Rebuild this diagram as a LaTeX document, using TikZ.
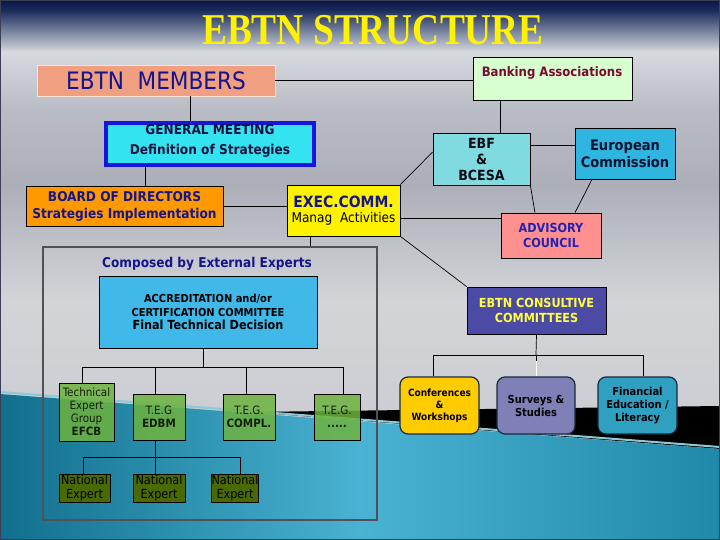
\documentclass[tikz,border=0pt]{standalone}
\usepackage{fontspec}
\usepackage{graphicx}
\setmainfont{DejaVu Sans Condensed}
\newfontfamily\titlefont{Liberation Serif}
\usetikzlibrary{calc}
\definecolor{navytxt}{HTML}{14148C}
\definecolor{memfill}{HTML}{F0A080}
\definecolor{bankfill}{HTML}{D8FFD0}
\definecolor{banktxt}{HTML}{7A0A30}
\definecolor{gmfill}{HTML}{33E3F0}
\definecolor{gmdraw}{HTML}{1515E0}
\definecolor{boardfill}{HTML}{FF9900}
\definecolor{ebffill}{HTML}{7FDBE0}
\definecolor{ecfill}{HTML}{2FB6E0}
\definecolor{advfill}{HTML}{FF9090}
\definecolor{advtxt}{HTML}{2323B0}
\definecolor{consfill}{HTML}{4B4BA5}
\definecolor{accrfill}{HTML}{40B8E8}
\definecolor{tegfill}{HTML}{6DB33F}
\definecolor{nefill}{HTML}{4A6A00}
\definecolor{conffill}{HTML}{FFCC00}
\definecolor{survfill}{HTML}{8080B8}
\definecolor{finfill}{HTML}{30A0C0}
\definecolor{outerdraw}{HTML}{505055}
\definecolor{rdraw}{HTML}{1A2A3A}
\newcommand\myfs[2]{\fontsize{#1}{#2}\selectfont}
\begin{document}
\begin{tikzpicture}[x=1pt,y=-1pt,
  box/.style={draw=black, line width=0.7pt, inner sep=0pt, align=center},
  conn/.style={draw=black, line width=0.7pt},
  rbox/.style={box, draw=rdraw, rounded corners=8pt, line width=1.2pt}]
\useasboundingbox (0,0) rectangle (720,540);
% ---- background
\shade[top color={rgb,255:red,8;green,20;blue,70}, bottom color={rgb,255:red,26;green,44;blue,92}] (0,0) rectangle (720,10);
\shade[top color={rgb,255:red,26;green,44;blue,92}, bottom color={rgb,255:red,214;green,217;blue,222}] (0,10) rectangle (720,52);
\shade[top color={rgb,255:red,214;green,217;blue,222}, bottom color={rgb,255:red,185;green,188;blue,196}] (0,52) rectangle (720,110);
\shade[top color={rgb,255:red,185;green,188;blue,196}, bottom color={rgb,255:red,172;green,175;blue,184}] (0,110) rectangle (720,185);
\shade[top color={rgb,255:red,172;green,175;blue,184}, bottom color={rgb,255:red,210;green,212;blue,216}] (0,185) rectangle (720,300);
\shade[top color={rgb,255:red,210;green,212;blue,216}, bottom color={rgb,255:red,196;green,199;blue,205}] (0,300) rectangle (720,540);
\fill[black] (250,412) -- (720,406) -- (720,449) -- cycle;
\draw[line width=2pt, color={rgb,255:red,140;green,200;blue,215}] (0,392) -- (720,447);
\shade[left color={rgb,255:red,17;green,111;blue,141}, right color={rgb,255:red,32;green,136;blue,168}, middle color={rgb,255:red,74;green,178;blue,210}] (0,394) -- (720,449) -- (720,540) -- (0,540) -- cycle;
\draw[line width=1.5pt, color={rgb,255:red,58;green,63;blue,85}] (0,0) rectangle (720,540);
% ---- title
\node (title) at (373,30) {\titlefont\bfseries\myfs{44}{48}\color{yellow}\scalebox{0.85}[1]{EBTN STRUCTURE}};
% ---- top nodes
\node[box, draw={rgb,255:red,248;green,228;blue,215}, fill=memfill, minimum width=238, minimum height=31, text=navytxt, font=\myfs{24}{26}] (mem) at (156,80.5) {EBTN~~MEMBERS};
\node[box, fill=bankfill, minimum width=159, minimum height=43] (bank) at (552.5,78.5) {};
\node[text=banktxt, font=\bfseries\myfs{13}{15}, inner sep=0pt] (banktxt) at (552,73) {Banking Associations};
\node[box, fill=gmfill, draw=gmdraw, line width=3.5pt, minimum width=208, minimum height=42, text={rgb,255:red,16;green,16;blue,64}, font=\bfseries\myfs{13.5}{19.5}] (gm) at (210,144) {GENERAL MEETING\\Definition of Strategies\\[-10pt]\mbox{}};
\node[box, fill=boardfill, minimum width=197, minimum height=40, text=navytxt, font=\bfseries\myfs{13.5}{17}] (board) at (124.5,206) {BOARD OF DIRECTORS\\Strategies Implementation};
\node[box, fill=yellow, minimum width=113, minimum height=51, align=center] (exec) at (343.5,210.5) {\textcolor{navytxt}{\bfseries\myfs{15.5}{18}EXEC.COMM.}\\[3pt]\myfs{13.5}{16}Manag~~Activities};
\node[box, fill=ebffill, minimum width=97, minimum height=52, font=\bfseries\myfs{14}{16}, text={rgb,255:red,10;green,10;blue,20}] (ebf) at (481.5,159) {EBF\\\&\\BCESA};
\node[box, fill=ecfill, minimum width=100, minimum height=51, font=\bfseries\myfs{14.5}{17}, text={rgb,255:red,10;green,16;blue,48}] (ec) at (625,153.5) {European\\Commission};
\node[box, fill=advfill, minimum width=100, minimum height=45, font=\bfseries\myfs{12.5}{15}, text=advtxt] (adv) at (551,235.5) {ADVISORY\\COUNCIL};
\node[box, fill=consfill, minimum width=139, minimum height=47, font=\bfseries\myfs{12.5}{15.5}, text={rgb,255:red,255;green,255;blue,64}] (cons) at (536.5,310.5) {EBTN CONSULTIVE\\COMMITTEES};
% ---- experts frame
\node[draw=outerdraw, line width=1.8pt, minimum width=334, minimum height=273, inner sep=0pt] (outer) at (210,383.5) {};
\node[text=navytxt, font=\bfseries\myfs{13.5}{16}, inner sep=0pt] (composed) at (207,264) {Composed by External Experts};
\node[box, fill=accrfill, minimum width=218, minimum height=72, text=black, font=\bfseries\myfs{11}{13.5}] (accr) at (208,312) {ACCREDITATION and/or\\CERTIFICATION COMMITTEE\\\myfs{12.5}{14}Final Technical Decision};
\node[box, fill=tegfill, fill opacity=0.85, text opacity=1, minimum width=55, minimum height=58, font=\myfs{11.5}{13}, text={rgb,255:red,20;green,30;blue,10}] (teg1) at (86.5,412) {Technical\\Expert\\Group\\\textbf{EFCB}};
\node[box, fill=tegfill, fill opacity=0.85, text opacity=1, minimum width=52, minimum height=46, font=\myfs{11.5}{13}, text={rgb,255:red,20;green,30;blue,10}] (teg2) at (159,417) {T.E.G\\\textbf{EDBM}};
\node[box, fill=tegfill, fill opacity=0.85, text opacity=1, minimum width=52, minimum height=46, font=\myfs{11.5}{13}, text={rgb,255:red,20;green,30;blue,10}] (teg3) at (249,417) {T.E.G.\\\textbf{COMPL.}};
\node[box, fill=tegfill, fill opacity=0.85, text opacity=1, minimum width=46, minimum height=46, font=\myfs{11.5}{13}, text={rgb,255:red,20;green,30;blue,10}] (teg4) at (337,417) {T.E.G.\\\textbf{.....}};
\node[box, fill=nefill, minimum width=51, minimum height=28, font=\myfs{12.5}{14.5}, text=black] (ne1) at (84.5,488) {National\\Expert};
\node[box, fill=nefill, minimum width=52, minimum height=28, font=\myfs{12.5}{14.5}, text=black] (ne2) at (159,488) {National\\Expert};
\node[box, fill=nefill, minimum width=46, minimum height=28, font=\myfs{12.5}{14.5}, text=black] (ne3) at (235,488) {National\\Expert};
% ---- consultive children
\node[rbox, fill=conffill, minimum width=79, minimum height=57, font=\bfseries\myfs{10}{12}] (conf) at (439.5,405.5) {Conferences\\\&\\Workshops};
\node[rbox, fill=survfill, minimum width=78, minimum height=57, font=\bfseries\myfs{11}{13}] (surv) at (536,405.5) {Surveys \&\\Studies};
\node[rbox, fill=finfill, minimum width=79, minimum height=57, font=\bfseries\myfs{11}{13}] (fin) at (637.5,405.5) {Financial\\Education /\\Literacy};
% ---- connectors
\draw[conn] (mem.east) -- (mem.east -| bank.west);
\draw[conn] ([xshift=-20pt]gm.north) -- ([xshift=-20pt]gm.north |- mem.south);
\draw[conn] ([xshift=18.5pt]ebf.north) -- ([xshift=18.5pt]ebf.north |- bank.south);
\draw[conn] ([xshift=20.5pt]board.north) -- ([xshift=20.5pt]board.north |- gm.south);
\draw[conn] (board.east) -- (board.east -| exec.west);
\draw[conn] (exec.north east) -- ([yshift=7pt]ebf.west);
\draw[conn] ([yshift=-7.5pt]exec.east) -- ([yshift=-7.5pt]exec.east -| adv.west);
\draw[conn] (exec.south east) -- (cons.north west);
\draw[conn] (ebf.south east) -- ([xshift=-16pt]adv.north);
\draw[conn] ([xshift=-33pt]ec.south) -- ([xshift=24pt]adv.north);
\draw[conn] ([yshift=14pt]ebf.east) -- ([yshift=14pt]ebf.east -| ec.west);
\draw[conn] ([xshift=-33.5pt]exec.south) -- ([xshift=-33.5pt]exec.south |- outer.north);
\coordinate (bus1) at (203,367);
\draw[conn] ([xshift=-5pt]accr.south) -- (bus1);
\draw[conn] ([xshift=-4pt]teg1.north) -- ([xshift=-4pt]teg1.north |- bus1) -- ([xshift=6pt]teg4.north |- bus1) -- ([xshift=6pt]teg4.north);
\draw[conn] ([xshift=-4pt]teg2.north) -- ([xshift=-4pt]teg2.north |- bus1);
\draw[conn] ([xshift=-3pt]teg3.north) -- ([xshift=-3pt]teg3.north |- bus1);
\coordinate (bus2) at (155,457);
\draw[conn] ([xshift=-4pt]teg2.south) -- (bus2);
\draw[conn] ([xshift=-1.5pt]ne1.north) -- ([xshift=-1.5pt]ne1.north |- bus2) -- ([xshift=5pt]ne3.north |- bus2) -- ([xshift=5pt]ne3.north);
\draw[conn] ([xshift=-4pt]ne2.north) -- ([xshift=-4pt]ne2.north |- bus2);
\coordinate (bus3) at (536,355);
\draw[conn] (cons.south) -- (bus3);
\draw[conn] ([xshift=-6.5pt]conf.north) -- ([xshift=-6.5pt]conf.north |- bus3) -- ([xshift=5.5pt]fin.north |- bus3) -- ([xshift=5.5pt]fin.north);
\draw[conn] (surv.north |- bus3) -- ([yshift=-6pt]surv.north |- bus3);
\draw[line width=0.7pt, white] ([yshift=-6pt]surv.north |- bus3) -- (surv.north);
\end{tikzpicture}
\end{document}
